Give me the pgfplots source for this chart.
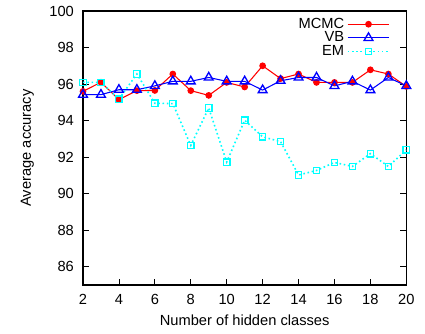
\documentclass[border=0pt]{standalone}
\usepackage{pgfplots}
\pgfplotsset{compat=1.18}
\usepackage{fontspec}
\setmainfont{Liberation Sans}
\definecolor{mcmcc}{RGB}{255,0,0}
\definecolor{vbc}{RGB}{0,0,255}
\definecolor{emc}{RGB}{0,255,255}
\begin{document}
\fontsize{11}{13}\selectfont
\begin{tikzpicture}
\begin{axis}[
  scale only axis,
  width=242.5pt, height=205.5pt,
  xmin=2, xmax=20, ymin=85, ymax=100,
  xtick={2,4,...,20}, ytick={86,88,...,100},
  tick align=inside,
  xtick pos=bottom, ytick pos=both,
  major tick length=4.5pt,
  tick style={black, line width=0.6pt},
  axis line style={line width=0.9pt},
  /pgf/number format/assume math mode=true,
  ticklabel style={font=\fontsize{11}{13}\selectfont},
  xticklabel style={yshift=-3pt},
  yticklabel style={xshift=-3pt},
  label style={font=\fontsize{11}{13}\selectfont},
  xlabel={Number of hidden classes},
  ylabel={Average accuracy},
  xlabel style={yshift=0pt},
  ylabel style={yshift=4pt},
  legend plot pos=right,
  legend cell align=right,
  legend style={draw=none, fill=none, at={(0.955,0.99)}, anchor=north east,
    font=\fontsize{11}{13}\selectfont, row sep=-3pt, inner sep=1pt},
  legend image code/.code={
    \draw[mark repeat=2,mark phase=2] plot coordinates {(0cm,0cm) (0.55cm,0cm) (1.1cm,0cm)};
  },
]
\addplot[mcmcc, line width=0.8pt, mark=*, mark size=2.1pt, mark options={solid}]
coordinates {(2,95.6) (3,96.1) (4,95.15) (5,95.64) (6,95.65) (7,96.55) (8,95.64) (9,95.38) (10,96.09) (11,95.84) (12,97.0) (13,96.3) (14,96.55) (15,96.09) (16,96.09) (17,96.09) (18,96.78) (19,96.55) (20,95.87)};
\addlegendentry{MCMC}
\addplot[vbc, line width=0.8pt, mark=triangle, mark size=3.8pt, mark options={solid, line width=1pt}]
coordinates {(2,95.42) (3,95.42) (4,95.69) (5,95.69) (6,95.9) (7,96.15) (8,96.15) (9,96.36) (10,96.15) (11,96.15) (12,95.67) (13,96.18) (14,96.36) (15,96.36) (16,95.9) (17,96.15) (18,95.67) (19,96.36) (20,95.9)};
\addlegendentry{VB}
\addplot[emc, line width=1.2pt, dotted, mark=square, mark size=2.4pt, mark options={solid, line width=1pt}]
coordinates {(2,96.09) (3,96.09) (4,95.18) (5,96.55) (6,94.95) (7,94.93) (8,92.64) (9,94.69) (10,91.73) (11,94.02) (12,93.11) (13,92.85) (14,91.02) (15,91.27) (16,91.71) (17,91.49) (18,92.19) (19,91.49) (20,92.4)};
\addlegendentry{EM}
\end{axis}
\pgfresetboundingbox
\path (-62.25pt,-36.75pt) rectangle (256.5pt,213.75pt);
\end{tikzpicture}
\end{document}
